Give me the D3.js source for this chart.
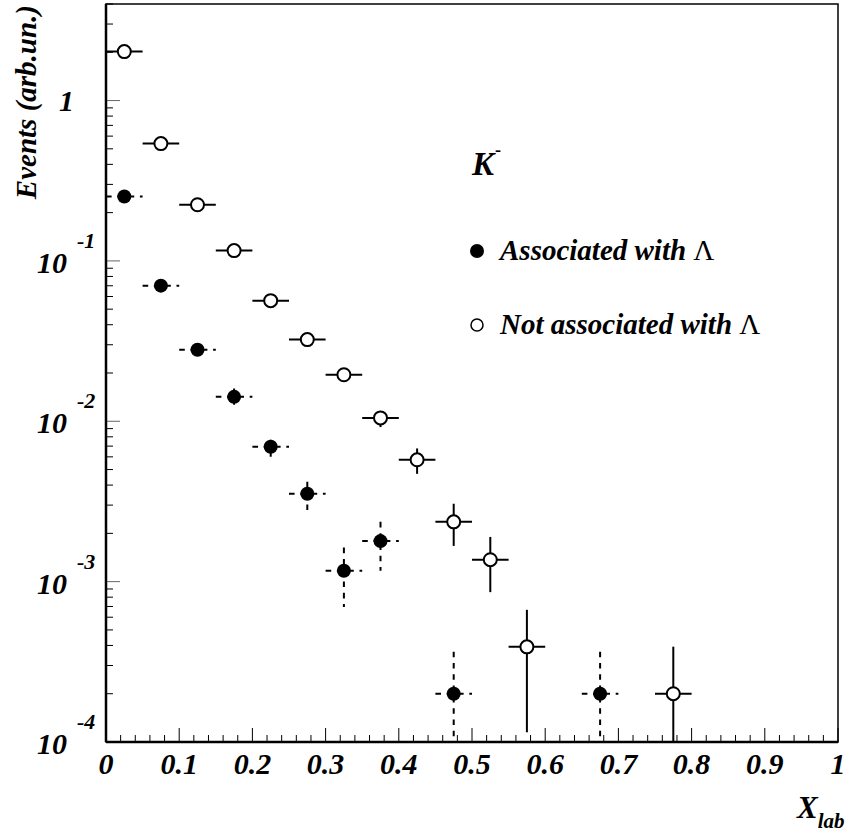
<!DOCTYPE html>
<html>
<head>
<meta charset="utf-8">
<script src="https://cdn.jsdelivr.net/npm/d3@7"></script>
<style>
  body { margin: 0; background: #fff; }
  text { font-family: "Liberation Serif", "Times New Roman", serif; font-weight: bold; font-style: italic; }
</style>
</head>
<body>
<div id="chart"></div>
<script>
// bin centres (x_lab), bins are 0.05 wide
const binWidth = 0.05;

// K- associated with Lambda (filled circles, dashed error bars)
const assocX  = [0.025, 0.075, 0.125, 0.175, 0.225, 0.275, 0.325, 0.375, 0.475, 0.675];
const assocY  = [0.252, 0.0701, 0.0279, 0.0142, 0.00693, 0.00353, 0.00117, 0.00179, 0.0002, 0.0002];
const assocLo = [0.240, 0.0665, 0.0262, 0.0127, 0.0060, 0.00269, 0.000695, 0.00117, 0, 0];
const assocHi = [0.264, 0.0740, 0.0297, 0.0160, 0.00767, 0.00419, 0.00163, 0.00236, 0.000366, 0.000366];

// K- not associated with Lambda (open circles, solid error bars)
const notX  = [0.025, 0.075, 0.125, 0.175, 0.225, 0.275, 0.325, 0.375, 0.425, 0.475, 0.525, 0.575, 0.775];
const notY  = [2.02, 0.539, 0.224, 0.116, 0.0565, 0.0323, 0.0195, 0.0105, 0.00575, 0.00236, 0.00137, 0.000392, 0.0002];
const notLo = [1.98, 0.528, 0.218, 0.112, 0.0542, 0.0307, 0.0182, 0.0092, 0.0047, 0.00167, 0.00086, 0.000115, 0];
const notHi = [2.06, 0.550, 0.230, 0.120, 0.0588, 0.0339, 0.0208, 0.0116, 0.00677, 0.00306, 0.0019, 0.000667, 0.000393];

const xTicks = [0, 0.1, 0.2, 0.3, 0.4, 0.5, 0.6, 0.7, 0.8, 0.9, 1];
const yTicks = [1e-4, 1e-3, 1e-2, 1e-1, 1];
const yTickLabels = [["10", "-4"], ["10", "-3"], ["10", "-2"], ["10", "-1"], ["1", ""]];

const W = 852, H = 836;
const margin = { left: 106, right: 14, top: 4, bottom: 94 };

const svg = d3.select("#chart").append("svg")
  .attr("width", W).attr("height", H);

const x = d3.scaleLinear().domain([0, 1]).range([margin.left, W - margin.right]);
const y = d3.scaleLog().domain([1e-4, 4]).range([H - margin.bottom, margin.top]);

const x0 = x(0), x1 = x(1), y0 = y(1e-4), y1 = y(4);

svg.append("clipPath").attr("id", "plotclip")
  .append("rect").attr("x", x0).attr("y", y1).attr("width", x1 - x0).attr("height", y0 - y1);

// frame
svg.append("rect").attr("x", x0).attr("y", y1).attr("width", x1 - x0).attr("height", y0 - y1)
  .attr("fill", "none").attr("stroke", "#000").attr("stroke-width", 1.5);

// x axis ticks
const xMinor = d3.range(0, 1.0001, 0.02);
svg.append("g").selectAll("line").data(xMinor).join("line")
  .attr("x1", d => x(d)).attr("x2", d => x(d))
  .attr("y1", y0).attr("y2", d => Math.abs(d * 10 - Math.round(d * 10)) < 1e-6 ? y0 - 14 : y0 - 7)
  .attr("stroke", "#000").attr("stroke-width", 1);

svg.append("g").selectAll("text").data(xTicks).join("text")
  .attr("x", d => x(d)).attr("y", 774)
  .attr("text-anchor", "middle")
  .attr("font-size", 30)
  .text(d => d === 0 ? "0" : d === 1 ? "1" : d3.format(".1f")(d));

// y axis ticks (log)
const yAll = [];
for (let e = -4; e <= 0; e++) {
  for (let m = 1; m <= 9; m++) {
    const v = m * Math.pow(10, e);
    if (v <= 4) yAll.push({ v: v, major: m === 1 });
  }
}
svg.append("g").selectAll("line").data(yAll).join("line")
  .attr("x1", x0).attr("x2", d => d.major ? x0 + 14 : x0 + 7)
  .attr("y1", d => y(d.v)).attr("y2", d => y(d.v))
  .attr("stroke", d => d.major ? "#666" : "#000").attr("stroke-width", 1);

const yl = svg.append("g");
yTicks.forEach((t, i) => {
  const lab = yTickLabels[i];
  if (lab[1] === "") {
    yl.append("text").attr("x", 74).attr("y", y(t) + 10)
      .attr("text-anchor", "end").attr("font-size", 30).text(lab[0]);
  } else {
    yl.append("text").attr("x", 67).attr("y", y(t) + 12)
      .attr("text-anchor", "end").attr("font-size", 30).text(lab[0]);
    yl.append("text").attr("x", 77).attr("y", y(t) - 13)
      .attr("text-anchor", "start").attr("font-size", 22).text(lab[1]);
  }
});

// axes lines (thick)
svg.append("line").attr("x1", x0).attr("x2", x0).attr("y1", y1).attr("y2", y0)
  .attr("stroke", "#000").attr("stroke-width", 2.5);
svg.append("line").attr("x1", x0).attr("x2", x1).attr("y1", y0).attr("y2", y0)
  .attr("stroke", "#000").attr("stroke-width", 2.5);

// axis titles
svg.append("text")
  .attr("transform", `translate(36,${margin.top + 1}) rotate(-90)`)
  .attr("text-anchor", "end").attr("font-size", 29)
  .text("Events (arb.un.)");

const xt = svg.append("text").attr("x", 797).attr("y", 818).attr("font-size", 31);
xt.append("tspan").text("X");
xt.append("tspan").attr("font-size", 21).attr("dy", 10).text("lab");

// data drawing
const plot = svg.append("g").attr("clip-path", "url(#plotclip)");
const R = 7;

function drawSeries(xs, ys, lo, hi, filled) {
  const dash = filled ? "5.6,5.7" : null;
  const g = plot.append("g");
  xs.forEach((xv, i) => {
    const cx = x(xv), cy = y(ys[i]);
    const xl = x(xv - binWidth / 2), xr = x(xv + binWidth / 2);
    const ylo = lo[i] > 0 ? y(lo[i]) : y0 + 5;
    const yhi = y(hi[i]);
    g.append("line")
      .attr("x1", xl).attr("y1", cy).attr("x2", xr).attr("y2", cy)
      .attr("stroke", "#000").attr("stroke-width", 2)
      .attr("stroke-dasharray", dash);
    if (ylo - yhi > 2 * R) {
      g.append("line")
        .attr("x1", cx).attr("y1", yhi).attr("x2", cx).attr("y2", ylo)
        .attr("stroke", "#000").attr("stroke-width", 2)
        .attr("stroke-dasharray", dash);
    }
    g.append("circle").attr("cx", cx).attr("cy", cy).attr("r", filled ? R : R - 0.5)
      .attr("fill", filled ? "#000" : "#fff")
      .attr("stroke", "#000").attr("stroke-width", filled ? 0 : 2);
  });
}

drawSeries(notX, notY, notLo, notHi, false);
drawSeries(assocX, assocY, assocLo, assocHi, true);

// legend
const kt = svg.append("text").attr("x", 472).attr("y", 175).attr("font-size", 33);
kt.append("tspan").text("K");
kt.append("tspan").attr("font-size", 18).attr("dx", 1).attr("dy", -19)
  .attr("font-style", "normal").text("-");

svg.append("circle").attr("cx", 477).attr("cy", 251).attr("r", 7).attr("fill", "#000");
svg.append("circle").attr("cx", 477).attr("cy", 325).attr("r", 6).attr("fill", "#fff")
  .attr("stroke", "#000").attr("stroke-width", 1.5);

const l1 = svg.append("text").attr("x", 500).attr("y", 260).attr("font-size", 29);
l1.append("tspan").text("Associated with ");
l1.append("tspan").attr("font-style", "normal").attr("font-weight", "normal").text("Λ");

const l2 = svg.append("text").attr("x", 500).attr("y", 334).attr("font-size", 29);
l2.append("tspan").text("Not associated with ");
l2.append("tspan").attr("font-style", "normal").attr("font-weight", "normal").text("Λ");
</script>
</body>
</html>
